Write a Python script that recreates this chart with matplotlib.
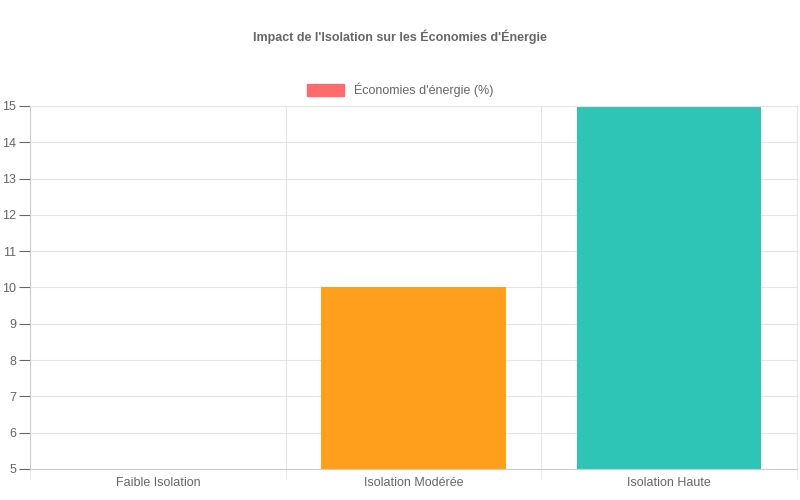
import matplotlib
matplotlib.use("Agg")
import matplotlib.pyplot as plt
from matplotlib.patches import Patch

categories = ["Faible Isolation", "Isolation Modérée", "Isolation Haute"]
values = [5, 10, 15]
colors = ["#FF6B6B", "#FF9F1C", "#2EC4B6"]
yticks = list(range(5, 16))

plt.rcParams['font.family'] = ['Liberation Sans', 'DejaVu Sans']
fig = plt.figure(figsize=(8, 5), dpi=100)
ax = fig.add_axes([30/800, 1-469/500, 767/800, 363/500])
x = list(range(len(categories)))
ax.bar(x, [v - 5 for v in values], bottom=5, width=0.72, color=colors)
ax.set_xlim(-0.5, 2.5)
ax.set_ylim(5, 15)
ax.set_yticks(yticks)
ax.set_xticks(x)
ax.set_xticklabels(categories)
ax.set_xticks([-0.5, 0.5, 1.5, 2.5], minor=True)
ax.grid(True, which='minor', axis='x', color='#e5e5e5', lw=0.8)
ax.grid(True, which='major', axis='y', color='#e5e5e5', lw=0.8)
ax.set_axisbelow(True)
ax.tick_params(which='major', axis='x', length=0, pad=6)
ax.tick_params(which='minor', axis='x', length=8, color='#e5e5e5')
ax.tick_params(axis='y', length=8, color='#e5e5e5', pad=2)
ax.tick_params(colors='#666666', labelsize=9)
for s in ax.spines.values():
    s.set_color('#e5e5e5')
ax.spines['left'].set_color('#cccccc')
ax.spines['bottom'].set_color('#cccccc')
fig.text(0.5, 1-37/500, "Impact de l'Isolation sur les Économies d'Énergie", ha='center', va='center',
         fontsize=9, fontweight='bold', color='#666666')
fig.legend(handles=[Patch(color=colors[0])], labels=["Économies d'énergie (%)"], loc='center',
           bbox_to_anchor=(0.5, 1-90/500), frameon=False, fontsize=9, labelcolor='#666666',
           handlelength=3, handleheight=1)
fig.savefig("out.png", dpi=100)
